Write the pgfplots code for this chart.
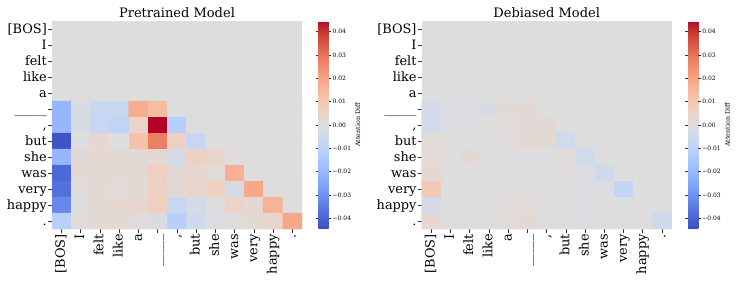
\documentclass[border=0pt]{standalone}
\usepackage{fontspec}
\setmainfont{DejaVu Serif}
\usepackage{pgfplots}
\pgfplotsset{compat=1.18}

\definecolor{bggrey}{RGB}{221,221,221}

\pgfplotsset{
  colormap={coolwarm}{
    rgb255=(59,76,192) rgb255=(68,90,204) rgb255=(77,104,215) rgb255=(87,117,225)
    rgb255=(98,130,234) rgb255=(108,142,241) rgb255=(119,154,247) rgb255=(130,165,251)
    rgb255=(141,176,254) rgb255=(152,185,255) rgb255=(163,194,255) rgb255=(174,201,253)
    rgb255=(184,208,249) rgb255=(194,213,244) rgb255=(204,217,238) rgb255=(213,219,230)
    rgb255=(221,221,221) rgb255=(229,216,209) rgb255=(236,211,197) rgb255=(241,204,185)
    rgb255=(245,196,173) rgb255=(247,187,160) rgb255=(247,177,148) rgb255=(247,166,135)
    rgb255=(244,154,123) rgb255=(241,141,111) rgb255=(236,127,99) rgb255=(229,112,88)
    rgb255=(222,96,77) rgb255=(213,80,66) rgb255=(203,62,56) rgb255=(192,40,47)
    rgb255=(180,4,38)
  },
  colorbar shift/.style={xshift=16.3bp},
  heat/.style={
    scale only axis, width=250bp, height=208bp,
    xmin=-0.5, xmax=12.5, ymin=-0.5, ymax=12.5,
    y dir=reverse,
    enlargelimits=false,
    xtick={0,...,12}, ytick={0,...,12},
    xticklabels={{[BOS]},I,felt,like,a,\_\_\_\_\_,{,},but,she,was,very,happy,.},
    yticklabels={{[BOS]},I,felt,like,a,\_\_\_\_\_,{,},but,she,was,very,happy,.},
    xtick pos=left, ytick pos=left,
    tick align=outside, major tick length=3.5bp,
    tick style={line width=0.8bp, color=black!80},
    axis line style={draw=none},
    axis background/.style={fill=bggrey},
    ticklabel style={font=\fontsize{12.9bp}{14bp}\selectfont, inner sep=1.5bp},
    xticklabel style={rotate=90, anchor=east, text height=9.8bp, text depth=3.1bp},
    yticklabel style={anchor=east, text height=8bp, text depth=0bp},
    every axis title shift=0pt,
    title style={font=\fontsize{13bp}{15bp}\selectfont, at={(0.5,1)}, anchor=base, yshift=3.8bp},
    colormap name=coolwarm,
    point meta min=-0.0445, point meta max=0.0445,
    colorbar,
    colorbar style={
      width=10.3bp,
      at={(parent axis.north east)}, anchor=north west,
      axis line style={draw=none},
      scaled y ticks=false,
      ytick={-0.04,-0.03,-0.02,-0.01,0,0.01,0.02,0.03,0.04},
      yticklabels={−0.04,−0.03,−0.02,−0.01,0.00,0.01,0.02,0.03,0.04},
      yticklabel style={font=\fontsize{6bp}{7bp}\selectfont, inner sep=1.2bp},
      tick align=outside, major tick length=2.7bp,
      tick style={line width=0.6bp, color=black!80},
      ylabel={Attention Diff},
      every axis y label/.style={at={(axis description cs:3.83,0.5)}, rotate=90, anchor=center, font=\fontsize{6.3bp}{7bp}\selectfont},
    },
  }
}

\begin{document}
\begin{tikzpicture}
\begin{axis}[heat, at={(0,0)}, anchor=south west, title={Pretrained Model}]
\addplot[matrix plot*, mesh/cols=13, point meta=explicit] table[row sep=\\, meta=c]{
x y c\\
0 5 -0.020\\ 1 5 -0.002\\ 2 5 -0.007\\ 3 5 -0.007\\ 4 5 0.018\\ 5 5 0.0135\\ 6 5 0\\ 7 5 0\\ 8 5 0\\ 9 5 0\\ 10 5 0\\ 11 5 0\\ 12 5 0\\
0 6 -0.020\\ 1 6 -0.002\\ 2 6 -0.007\\ 3 6 -0.009\\ 4 6 0.005\\ 5 6 0.0445\\ 6 6 -0.0115\\ 7 6 0\\ 8 6 0\\ 9 6 0\\ 10 6 0\\ 11 6 0\\ 12 6 0\\
0 7 -0.043\\ 1 7 -0.0005\\ 2 7 0.003\\ 3 7 -0.0005\\ 4 7 0.0115\\ 5 7 0.028\\ 6 7 0.006\\ 7 7 -0.007\\ 8 7 0\\ 9 7 0\\ 10 7 0\\ 11 7 0\\ 12 7 0\\
0 8 -0.020\\ 1 8 0.002\\ 2 8 0.003\\ 3 8 0.002\\ 4 8 0.002\\ 5 8 0.002\\ 6 8 -0.003\\ 7 8 0.006\\ 8 8 0.004\\ 9 8 0\\ 10 8 0\\ 11 8 0\\ 12 8 0\\
0 9 -0.039\\ 1 9 0.002\\ 2 9 0.002\\ 3 9 0.002\\ 4 9 0.002\\ 5 9 0.007\\ 6 9 0.002\\ 7 9 0.004\\ 8 9 0.001\\ 9 9 0.017\\ 10 9 0\\ 11 9 0\\ 12 9 0\\
0 10 -0.037\\ 1 10 0.001\\ 2 10 0.002\\ 3 10 0.001\\ 4 10 0.002\\ 5 10 0.006\\ 6 10 0.002\\ 7 10 0.004\\ 8 10 0.006\\ 9 10 -0.003\\ 10 10 0.019\\ 11 10 0\\ 12 10 0\\
0 11 -0.032\\ 1 11 -0.0005\\ 2 11 0.002\\ 3 11 0.003\\ 4 11 0.004\\ 5 11 0.007\\ 6 11 -0.007\\ 7 11 -0.003\\ 8 11 0\\ 9 11 0.005\\ 10 11 0.003\\ 11 11 0.016\\ 12 11 0\\
0 12 -0.0107\\ 1 12 0.001\\ 2 12 0.002\\ 3 12 0.002\\ 4 12 0.001\\ 5 12 -0.002\\ 6 12 -0.011\\ 7 12 -0.005\\ 8 12 -0.001\\ 9 12 0.0005\\ 10 12 0.002\\ 11 12 0.004\\ 12 12 0.019\\
};
\end{axis}
\begin{axis}[heat, at={(369.7bp,0)}, anchor=south west, title={Debiased Model}]
\addplot[matrix plot*, mesh/cols=13, point meta=explicit] table[row sep=\\, meta=c]{
x y c\\
0 5 -0.003\\ 1 5 -0.001\\ 2 5 -0.001\\ 3 5 -0.002\\ 4 5 0.002\\ 5 5 0.002\\ 6 5 0\\ 7 5 0\\ 8 5 0\\ 9 5 0\\ 10 5 0\\ 11 5 0\\ 12 5 0\\
0 6 -0.004\\ 1 6 -0.001\\ 2 6 -0.0005\\ 3 6 0\\ 4 6 0.001\\ 5 6 0.002\\ 6 6 0.002\\ 7 6 0\\ 8 6 0\\ 9 6 0\\ 10 6 0\\ 11 6 0\\ 12 6 0\\
0 7 0.001\\ 1 7 0\\ 2 7 -0.0005\\ 3 7 0\\ 4 7 0.001\\ 5 7 0.002\\ 6 7 0.002\\ 7 7 -0.004\\ 8 7 0\\ 9 7 0\\ 10 7 0\\ 11 7 0\\ 12 7 0\\
0 8 0.001\\ 1 8 0\\ 2 8 0.002\\ 3 8 0\\ 4 8 0\\ 5 8 0\\ 6 8 0\\ 7 8 0.001\\ 8 8 -0.004\\ 9 8 0\\ 10 8 0\\ 11 8 0\\ 12 8 0\\
0 9 0.003\\ 1 9 0\\ 2 9 0\\ 3 9 0\\ 4 9 0.0005\\ 5 9 0.0005\\ 6 9 0.0005\\ 7 9 0.0005\\ 8 9 -0.001\\ 9 9 -0.005\\ 10 9 0\\ 11 9 0\\ 12 9 0\\
0 10 0.009\\ 1 10 0\\ 2 10 0\\ 3 10 0\\ 4 10 0\\ 5 10 0\\ 6 10 0\\ 7 10 0\\ 8 10 -0.001\\ 9 10 -0.0005\\ 10 10 -0.008\\ 11 10 0\\ 12 10 0\\
0 11 -0.003\\ 1 11 0\\ 2 11 0\\ 3 11 0\\ 4 11 0.001\\ 5 11 0.001\\ 6 11 0\\ 7 11 0\\ 8 11 -0.0005\\ 9 11 0\\ 10 11 -0.0005\\ 11 11 0\\ 12 11 0\\
0 12 0.003\\ 1 12 -0.0005\\ 2 12 0\\ 3 12 -0.0005\\ 4 12 0.001\\ 5 12 0.002\\ 6 12 0\\ 7 12 -0.0005\\ 8 12 -0.001\\ 9 12 0\\ 10 12 0\\ 11 12 0\\ 12 12 -0.005\\
};
\end{axis}
\pgfresetboundingbox
\path[use as bounding box] (-52bp,-53bp) rectangle (695bp,229bp);
\end{tikzpicture}
\end{document}
